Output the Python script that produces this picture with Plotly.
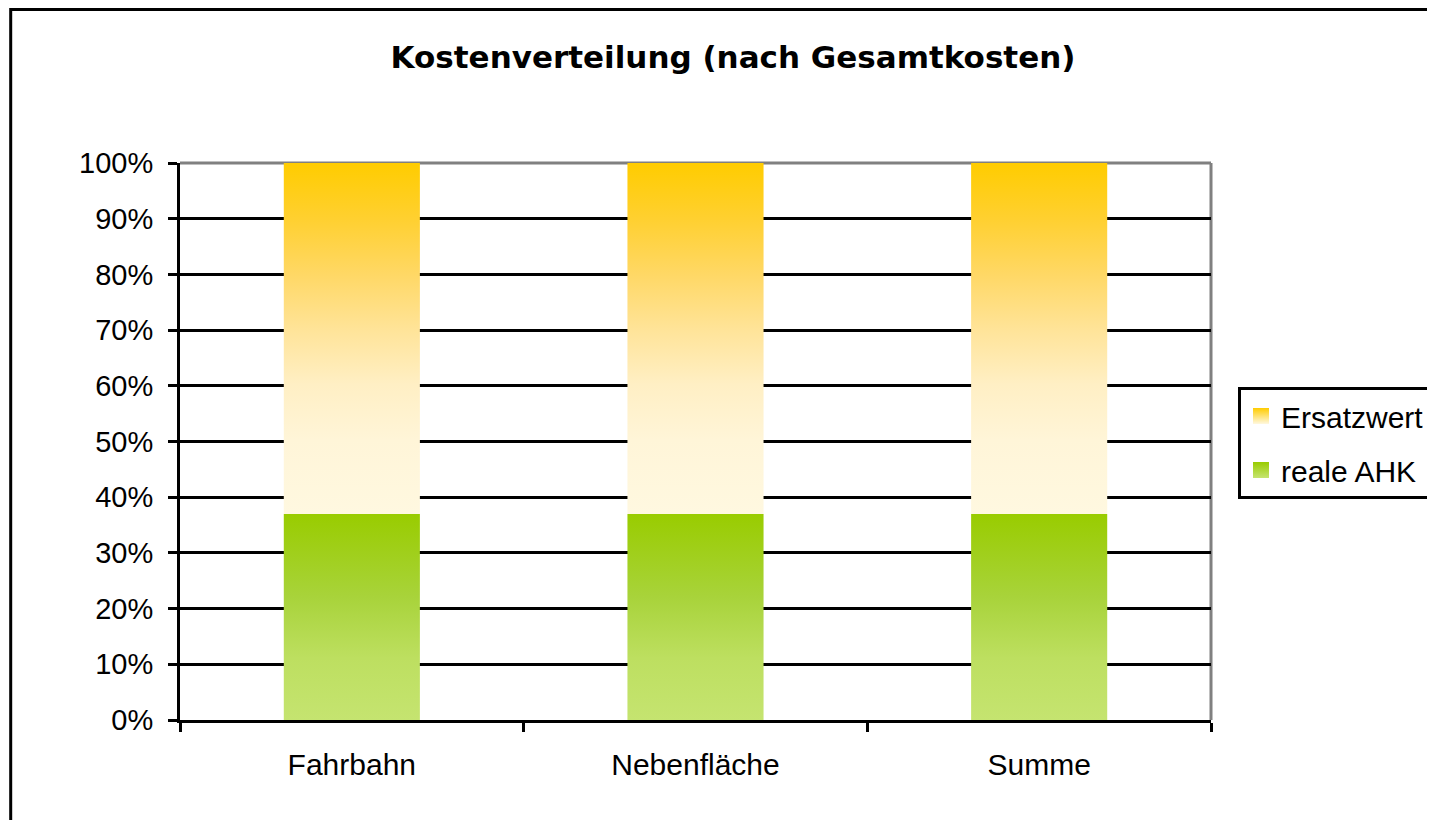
import plotly.graph_objects as go

# ---------------- data ----------------
categories = ["Fahrbahn", "Nebenfläche", "Summe"]
reale_ahk = [0.37, 0.37, 0.37]
ersatzwert = [0.63, 0.63, 0.63]
series_names = ["Ersatzwert", "reale AHK"]
y_tick_values = [0.0, 0.1, 0.2, 0.3, 0.4, 0.5, 0.6, 0.7, 0.8, 0.9, 1.0]
title_text = "Kostenverteilung (nach Gesamtkosten)"

# ---------------- geometry / style ----------------
OFF = 8                      # page body margin
W, H = 1435 - 2 * OFF, 820 - OFF
ML, MT = 180 - OFF, 163 - OFF
MR = W - (1211 - OFF)
MB = H - (720 - OFF)
PW, PH = W - ML - MR, H - MT - MB
HALF_BAR = 0.198
FONT = "Liberation Sans, Arial, sans-serif"
TITLE_FONT = "DejaVu Sans, Verdana, sans-serif"

x_pos = list(range(len(categories)))


def bar_polygons(bases, heights):
    xs, ys = [], []
    for xi, b, h in zip(x_pos, bases, heights):
        top = b + h
        xs += [xi - HALF_BAR, xi + HALF_BAR, xi + HALF_BAR, xi - HALF_BAR, xi - HALF_BAR, None]
        ys += [b, b, top, top, b, None]
    return xs, ys


def px_to_paper_x(px):  # px in reference page coordinates
    return (px - OFF - ML) / PW


def px_to_paper_y(py):
    return (H - MB - (py - OFF)) / PH


ers_colorscale = [[0.0, "#FFF8E0"], [0.21, "#FFF5D8"], [0.37, "#FFEFC4"],
                  [0.52, "#FFE49A"], [0.68, "#FFD866"], [0.84, "#FFD030"], [1.0, "#FFCC00"]]
ahk_colorscale = [[0.0, "#C5E470"], [0.3, "#BDDF60"], [0.6, "#A8D33A"], [1.0, "#99CC00"]]

zero_base = [0 for _ in categories]

fig = go.Figure()

x1, y1 = bar_polygons(reale_ahk, ersatzwert)
fig.add_trace(go.Scatter(
    x=x1, y=y1, name=series_names[0], mode="lines", fill="toself",
    line=dict(width=0, color="rgba(0,0,0,0)"), fillcolor="#FFE49A",
    fillgradient=dict(type="vertical", colorscale=ers_colorscale),
    showlegend=False, hoverinfo="skip",
))

x2, y2 = bar_polygons(zero_base, reale_ahk)
fig.add_trace(go.Scatter(
    x=x2, y=y2, name=series_names[1], mode="lines", fill="toself",
    line=dict(width=0, color="rgba(0,0,0,0)"), fillcolor="#AFD84A",
    fillgradient=dict(type="vertical", colorscale=ahk_colorscale),
    showlegend=False, hoverinfo="skip",
))

# legend entries (small gradient squares as in the original)
for name, top_c, bot_c, grp in [(series_names[0], "#FFCC00", "#FFF8E0", "a"),
                                (series_names[1], "#99CC00", "#C5E470", "b")]:
    fig.add_trace(go.Scatter(
        x=[None], y=[None], name=name, mode="markers", legendgroup=grp,
        marker=dict(symbol="square", size=16, color=top_c,
                    gradient=dict(type="vertical", color=bot_c),
                    line=dict(width=0)),
        showlegend=True, hoverinfo="skip",
    ))

fig.update_layout(
    width=W, height=H,
    margin=dict(l=ML, r=MR, t=MT, b=MB, pad=0, autoexpand=False),
    paper_bgcolor="white", plot_bgcolor="white",
    font=dict(family=FONT, color="black"),
    title=dict(text=title_text, x=px_to_paper_x(733), xref="paper", xanchor="center",
               y=1 - (57 - OFF) / H, yref="container", yanchor="middle",
               font=dict(family=TITLE_FONT, size=31, weight=700, color="black")),
    showlegend=True,
    legend=dict(x=px_to_paper_x(1238), y=px_to_paper_y(387), xanchor="left", yanchor="top",
                bordercolor="black", borderwidth=3, bgcolor="white",
                font=dict(family=FONT, size=30), traceorder="grouped", tracegroupgap=12,
                itemsizing="trace"),
    xaxis=dict(range=[-0.5, len(categories) - 0.5], tickmode="array", tickvals=x_pos,
               ticktext=categories, ticks="", showgrid=False, zeroline=False,
               showline=True, linecolor="black", linewidth=3,
               tickfont=dict(family=FONT, size=30), ticklabelstandoff=16,
               minor=dict(tickmode="array",
                          tickvals=[p - 0.5 for p in x_pos] + [x_pos[-1] + 0.5],
                          ticks="outside", ticklen=9, tickwidth=3, tickcolor="black",
                          showgrid=False),
               fixedrange=True),
    yaxis=dict(range=[0, 1], tickmode="array", tickvals=y_tick_values, tickformat=".0%",
               ticks="outside", ticklen=9, tickwidth=3, tickcolor="black",
               showgrid=True, gridcolor="black", gridwidth=3, zeroline=False,
               showline=True, linecolor="black", linewidth=3,
               tickfont=dict(family=FONT, size=29), ticklabelstandoff=9,
               fixedrange=True),
    shapes=[
        dict(type="line", xref="paper", yref="paper", x0=0, x1=1, y0=1, y1=1,
             line=dict(color="#808080", width=3), layer="between"),
        dict(type="line", xref="paper", yref="paper", x0=1, x1=1, y0=0, y1=1,
             line=dict(color="#808080", width=3), layer="between"),
        dict(type="rect", xref="paper", yref="paper",
             x0=px_to_paper_x(10.7), x1=px_to_paper_x(1435 + 60),
             y0=px_to_paper_y(820 + 60), y1=px_to_paper_y(OFF + 1.5),
             line=dict(color="black", width=3), fillcolor="rgba(0,0,0,0)", layer="above"),
    ],
)

fig.write_html("out.html")
